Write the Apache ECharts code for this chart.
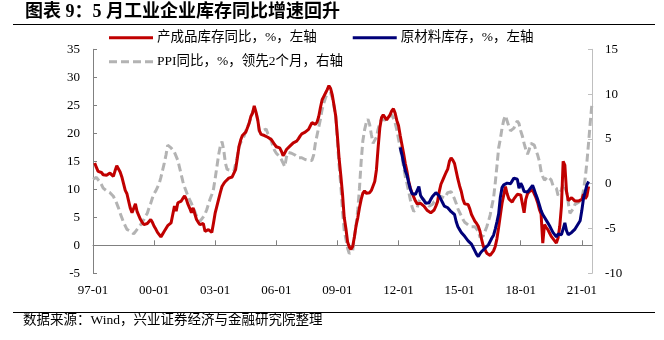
<!DOCTYPE html>
<html>
<head>
<meta charset="utf-8">
<script src="https://cdn.jsdelivr.net/npm/echarts@6/dist/echarts.min.js"></script>
<style>
  html, body { margin: 0; padding: 0; background: #ffffff; }
  #chart { width: 664px; height: 340px; }
</style>
</head>
<body>
<div id="chart"></div>
<script>
// Monthly categories, 1997-01 .. 2021-07 (labelled YY-MM)
const firstYear = 1997, lastYear = 2021, lastMonth = 7;
const months = [];
for (let y = firstYear; y <= lastYear; y++) {
  for (let m = 1; m <= 12; m++) {
    if (y === lastYear && m > lastMonth) break;
    months.push(String(y % 100).padStart(2, '0') + '-' + String(m).padStart(2, '0'));
  }
}

// Labelled / ticked months on the horizontal axis
const xTickLabels = ['97-01', '00-01', '03-01', '06-01', '09-01', '12-01', '15-01', '18-01', '21-01'];

// Axis ranges
const leftAxisRange = { min: -5, max: 35, step: 5 };
const rightAxisRange = { min: -10, max: 15, step: 5 };

// Finished-goods inventory YoY, %, left axis (from 1997-01)
const finishedGoods = [
  null, 14.7, 13.9, 13.2, 13.1, 13.0, 12.6, 12.3, 12.5, 12.6, 12.9, 13.2,   // 1997
  12.3, 13.3, 14.2, 14.0, 13.1, 12.2, 11.0, 9.8, 9.2, 7.9, 6.6, 5.8,        // 1998
  5.9, 7.4, 6.0, 5.3, 4.6, 4.1, 3.7, 3.8, 3.9, 4.2, 4.6, 4.1,               // 1999
  3.4, 2.9, 2.3, 1.9, 1.5, 2.0, 2.5, 3.0, 3.5, 3.8, 4.0, 5.5,               // 2000
  7.0, 6.1, 7.6, 7.7, 7.9, 8.4, 8.8, 8.2, 7.3, 6.6, 5.8, 6.7,               // 2001
  5.6, 4.6, 4.1, 3.7, 3.8, 3.9, 2.5, 2.7, 2.8, 2.5, 2.3, 4.0,               // 2002
  5.8, 7.0, 8.2, 9.4, 10.5, 11.0, 11.4, 11.7, 12.0, 12.1, 12.2, 12.3,       // 2003
  13.5, 15.5, 17.6, 18.8, 19.6, 19.9, 20.2, 21.0, 21.8, 23.0, 23.6, 24.9,   // 2004
  23.8, 22.5, 20.5, 19.8, 19.5, 19.6, 19.5, 19.3, 19.2, 18.9, 18.6, 18.0,   // 2005
  17.6, 17.5, 17.4, 16.8, 16.0, 16.5, 17.1, 17.4, 17.7, 18.0, 18.3, 18.5,   // 2006
  18.6, 19.0, 19.5, 19.9, 20.1, 20.2, 20.2, 20.7, 21.3, 21.9, 21.8, 21.6,   // 2007
  22.0, 23.0, 24.6, 26.0, 26.6, 27.2, 27.8, 28.5, 28.0, 26.8, 25.0, 23.1,   // 2008
  19.5, 15.5, 12.5, 9.2, 5.0, 3.0, 0.6, -0.3, -0.7, -0.2, 1.5, 3.5,         // 2009
  4.9, 6.7, 8.2, 9.3, 9.7, 9.3, 9.2, 9.4, 9.8, 10.6, 11.4, 13.5,            // 2010
  17.5, 21.0, 22.8, 23.3, 23.0, 22.4, 22.3, 23.3, 24.0, 24.4, 23.6, 22.3,   // 2011
  21.4, 19.6, 18.0, 16.4, 14.6, 13.2, 11.4, 10.2, 9.3, 8.6, 7.9, 7.4,       // 2012
  7.2, 7.5, 7.4, 7.0, 6.6, 6.2, 6.0, 5.8, 6.0, 6.3, 7.0, 7.8,               // 2013
  9.6, 10.9, 11.6, 12.3, 13.0, 13.6, 15.0, 15.6, 15.2, 14.6, 13.2, 11.8,    // 2014
  10.6, 9.6, 8.2, 7.4, 7.1, 7.3, 6.5, 5.5, 4.9, 4.3, 3.9, 3.4,              // 2015
  2.5, 1.0, -0.2, -0.8, -1.4, -1.7, -1.8, -1.6, -1.0, -0.2, 1.2, 3.2,       // 2016
  5.4, 7.5, 9.0, 10.5, 9.2, 8.3, 8.0, 7.7, 8.3, 8.7, 9.1, 8.9,              // 2017
  9.0, 9.1, 5.8, 8.2, 9.2, 9.6, 9.8, 9.9, 9.2, 8.5, 7.6, 6.4,               // 2018
  5.6, 0.4, 3.7, 3.2, 2.8, 2.2, 1.6, 1.2, 0.9, 0.4, 1.3, 3.4,               // 2019
  7.0, 15.0, 14.3, 9.6, 8.0, 8.2, 8.5, 8.2, 7.9, 7.6, 7.9, 8.0,             // 2020
  8.2, 9.1, 8.3, 8.8, 10.5                                                  // 2021
];

// Raw-material inventory YoY, %, left axis (from 2012-01)
const rawMaterialStart = '12-01';
const rawMaterial = [
  null, 17.5, 16.2, 14.7, 13.3, 12.5, 11.2, 10.0, 9.2, 9.0, 9.1, 9.3,       // 2012
  10.5, 8.9, 8.4, 8.0, 7.5, 7.2, 7.6, 8.2, 8.7, 9.0, 9.4, 9.2,              // 2013
  8.8, 8.2, 7.6, 7.0, 6.8, 6.7, 6.4, 6.0, 5.7, 5.5, 4.2, 3.3,               // 2014
  2.8, 2.3, 2.0, 1.6, 1.2, 0.8, 0.5, 0.2, -0.4, -1.0, -1.6, -2.0,           // 2015
  -1.5, -1.1, -0.9, -0.5, -0.2, 0.1, 0.4, 1.3, 1.8, 2.9, 4.2, 5.6,          // 2016
  8.6, 10.3, 10.8, 11.0, 11.1, 11.0, 11.0, 11.5, 12.0, 12.3, 11.8, 10.2,    // 2017
  11.1, 10.5, 9.6, 9.6, 9.5, 9.8, 10.3, 10.7, 9.9, 9.0, 8.2, 7.2,           // 2018
  6.2, 5.5, 5.0, 4.5, 4.0, 3.5, 2.9, 2.3, 1.9, 1.5, 2.0, 2.2,               // 2019
  1.9, 2.9, 4.0, 2.6, 1.9, 2.0, 2.3, 2.6, 2.9, 3.4, 3.9, 4.4,               // 2020
  6.2, 8.4, 9.6, 10.8, 11.4                                                 // 2021
];

// PPI YoY, %, shifted two months ahead, right axis (from 1997-01)
const ppiLead2 = [
  0.5, 0.6, 0.7, 0.5, 0.2, -0.1, -0.5, -0.7, -0.8, -0.9, -1.0, -1.2,        // 1997
  -1.4, -1.8, -2.2, -2.7, -3.3, -3.8, -4.3, -4.7, -5.1, -5.2, -5.3, -5.5,   // 1998
  -5.6, -5.4, -5.1, -4.9, -4.6, -4.3, -4.0, -3.6, -3.3, -2.7, -2.2, -1.6,   // 1999
  -1.1, -0.8, -0.7, 0.0, 0.7, 1.5, 2.3, 3.2, 4.3, 4.2, 4.0, 3.8,            // 2000
  3.5, 3.3, 2.6, 1.8, 1.0, 0.2, -0.4, -0.9, -1.4, -1.8, -2.2, -2.7,         // 2001
  -3.1, -3.6, -3.9, -4.2, -4.0, -3.7, -3.4, -2.9, -2.3, -1.7, -1.2, -0.6,   // 2002
  0.6, 1.9, 3.2, 4.2, 4.7, 3.8, 2.3, 1.6, 1.5, 1.5, 1.4, 1.4,               // 2003
  1.6, 3.0, 4.1, 4.6, 4.9, 5.3, 5.9, 6.3, 6.8, 7.3, 8.0, 8.4,               // 2004
  8.1, 7.1, 5.8, 5.6, 5.9, 6.0, 6.1, 5.6, 5.3, 4.8, 4.2, 3.7,               // 2005
  3.4, 3.2, 3.0, 2.7, 2.3, 1.9, 3.0, 3.5, 3.6, 3.4, 3.4, 3.2,               // 2006
  3.0, 2.9, 2.8, 2.9, 2.9, 2.7, 2.8, 2.6, 2.6, 2.6, 3.2, 4.5,               // 2007
  5.4, 6.3, 7.2, 8.3, 9.0, 9.6, 10.0, 10.2, 10.1, 9.6, 8.6, 7.5,            // 2008
  4.8, 2.0, -0.2, -3.0, -5.2, -6.2, -7.2, -7.8, -8.0, -7.5, -6.0, -4.6,     // 2009
  -2.9, -0.5, 2.5, 4.8, 6.0, 6.8, 7.2, 6.6, 5.5, 4.5, 4.6, 5.2,             // 2010
  6.1, 6.8, 7.2, 7.2, 7.1, 7.1, 7.4, 7.6, 7.7, 7.3, 6.8, 6.0,               // 2011
  5.0, 4.0, 3.0, 1.9, 0.8, 0.0, -0.9, -1.8, -2.6, -3.1, -3.3, -2.7,         // 2012
  -2.0, -1.4, -1.6, -1.8, -2.1, -2.3, -2.5, -2.5, -2.3, -2.0, -1.9, -1.8,   // 2013
  -1.6, -1.4, -1.5, -1.6, -1.4, -1.0, -1.0, -0.9, -1.3, -1.7, -2.2, -2.8,   // 2014
  -3.2, -3.6, -4.0, -4.3, -4.5, -4.6, -4.7, -4.8, -4.8, -4.8, -5.0, -5.3,   // 2015
  -6.0, -6.1, -5.8, -5.3, -4.8, -4.2, -3.5, -2.5, -1.6, 0.1, 2.0, 4.0,      // 2016
  5.0, 6.2, 7.1, 7.6, 7.5, 6.4, 5.9, 5.8, 6.2, 6.7, 7.0, 6.7,               // 2017
  5.9, 5.3, 4.5, 3.8, 3.3, 3.8, 4.5, 4.6, 4.3, 3.7, 3.2, 2.5,               // 2018
  1.4, 0.8, 0.4, 0.6, 0.8, 0.7, 0.4, -0.2, -0.4, -0.5, -1.3, -1.2,          // 2019
  -0.7, 0.0, -0.2, -0.9, -2.1, -3.3, -3.3, -2.8, -2.3, -2.2, -2.1, -2.0,    // 2020
  -1.7, -0.7, 0.6, 2.4, 4.6, 6.9, 9.0                                       // 2021
];

const seriesNames = {
  finished: '产成品库存同比，%，左轴',
  raw: '原材料库存，%，左轴',
  ppi: 'PPI同比，%，领先2个月，右轴'
};

// Raw-material values placed on the full monthly axis
const rawOffset = months.indexOf(rawMaterialStart);
const rawMaterialFull = new Array(rawOffset).fill(null).concat(rawMaterial);

const serif = "'Liberation Serif', 'Times New Roman', 'Noto Sans CJK SC', serif";
const cjk = "'Liberation Serif', 'Noto Sans CJK SC', serif";
const isTick = (idx, val) => xTickLabels.indexOf(val) !== -1;

// legend keys: a solid bar and a four-dash bar
const solidKey = 'rect';
const dashedKey = 'path://M0,0h8v3h-8zM12,0h8v3h-8zM24,0h8v3h-8zM36,0h8v3h-8z';

const chart = echarts.init(document.getElementById('chart'), null, { renderer: 'canvas' });

chart.setOption({
  animation: false,
  backgroundColor: '#ffffff',
  grid: { left: 93, right: 72, top: 49.3, bottom: 66.7, containLabel: false },
  legend: [
    {
      data: [
        { name: seriesNames.finished, icon: solidKey },
        { name: seriesNames.raw, icon: solidKey }
      ],
      left: 109, top: 31, padding: 0,
      itemWidth: 44, itemHeight: 3, itemGap: 36, symbolKeepAspect: false,
      textStyle: { fontFamily: cjk, fontSize: 13.5, color: '#000', padding: [0, 0, 0, -1] }
    },
    {
      data: [{ name: seriesNames.ppi, icon: dashedKey }],
      left: 109, top: 55, padding: 0,
      itemWidth: 44, itemHeight: 3, symbolKeepAspect: false,
      textStyle: { fontFamily: cjk, fontSize: 13.5, color: '#000', padding: [0, 0, 0, -1] }
    }
  ],
  xAxis: [
    {
      // zero line with inward ticks every 36 months
      type: 'category',
      data: months,
      boundaryGap: false,
      axisLine: { onZero: true, onZeroAxisIndex: 0, lineStyle: { color: '#808080', width: 1 } },
      axisTick: { show: true, inside: true, length: 5, interval: isTick, lineStyle: { color: '#808080' } },
      axisLabel: { show: false },
      splitLine: { show: false }
    },
    {
      // labels along the bottom edge
      type: 'category',
      data: months,
      boundaryGap: false,
      position: 'bottom',
      axisLine: { show: false, onZero: false },
      axisTick: { show: false },
      axisLabel: {
        show: true, interval: isTick, margin: 11,
        fontFamily: serif, fontSize: 13, color: '#000'
      },
      splitLine: { show: false }
    }
  ],
  yAxis: [
    {
      type: 'value',
      position: 'left',
      min: leftAxisRange.min, max: leftAxisRange.max, interval: leftAxisRange.step,
      axisLine: { show: true, lineStyle: { color: '#808080', width: 1 } },
      axisTick: { show: true, inside: true, length: 4, lineStyle: { color: '#808080' } },
      axisLabel: { margin: 13, fontFamily: serif, fontSize: 13, color: '#000' },
      splitLine: { show: false }
    },
    {
      type: 'value',
      position: 'right',
      min: rightAxisRange.min, max: rightAxisRange.max, interval: rightAxisRange.step,
      axisLine: { show: true, lineStyle: { color: '#BFBFBF', width: 1 } },
      axisTick: { show: true, inside: true, length: 4, lineStyle: { color: '#BFBFBF' } },
      axisLabel: { margin: 13, fontFamily: serif, fontSize: 13, color: '#000' },
      splitLine: { show: false }
    }
  ],
  series: [
    {
      name: seriesNames.ppi,
      type: 'line',
      xAxisIndex: 0, yAxisIndex: 1,
      data: ppiLead2,
      symbol: 'none',
      color: '#B3B3B3',
      lineStyle: { color: '#B3B3B3', width: 3, type: [8, 4] },
      z: 2
    },
    {
      name: seriesNames.finished,
      type: 'line',
      xAxisIndex: 0, yAxisIndex: 0,
      data: finishedGoods,
      symbol: 'none',
      color: '#C00000',
      lineStyle: { color: '#C00000', width: 3 },
      z: 3
    },
    {
      name: seriesNames.raw,
      type: 'line',
      xAxisIndex: 0, yAxisIndex: 0,
      data: rawMaterialFull,
      symbol: 'none',
      color: '#000078',
      lineStyle: { color: '#000078', width: 3 },
      z: 4
    }
  ],
  graphic: [
    {
      type: 'text', left: 25, top: 3,
      style: {
        text: '图表 9：5 月工业企业库存同比增速回升',
        font: "bold 18px 'Liberation Serif', 'Noto Sans CJK SC', serif",
        fill: '#000'
      }
    },
    {
      type: 'line',
      shape: { x1: 13, y1: 24.5, x2: 655, y2: 24.5 },
      style: { stroke: '#000', lineWidth: 1.2 }
    },
    {
      type: 'line',
      shape: { x1: 13, y1: 312.5, x2: 655, y2: 312.5 },
      style: { stroke: '#000', lineWidth: 1.2 }
    },
    {
      type: 'text', left: 23, top: 314,
      style: {
        text: '数据来源：Wind，兴业证券经济与金融研究院整理',
        font: "13.5px 'Liberation Serif', 'Noto Sans CJK SC', serif",
        fill: '#000'
      }
    }
  ]
});
</script>
</body>
</html>
